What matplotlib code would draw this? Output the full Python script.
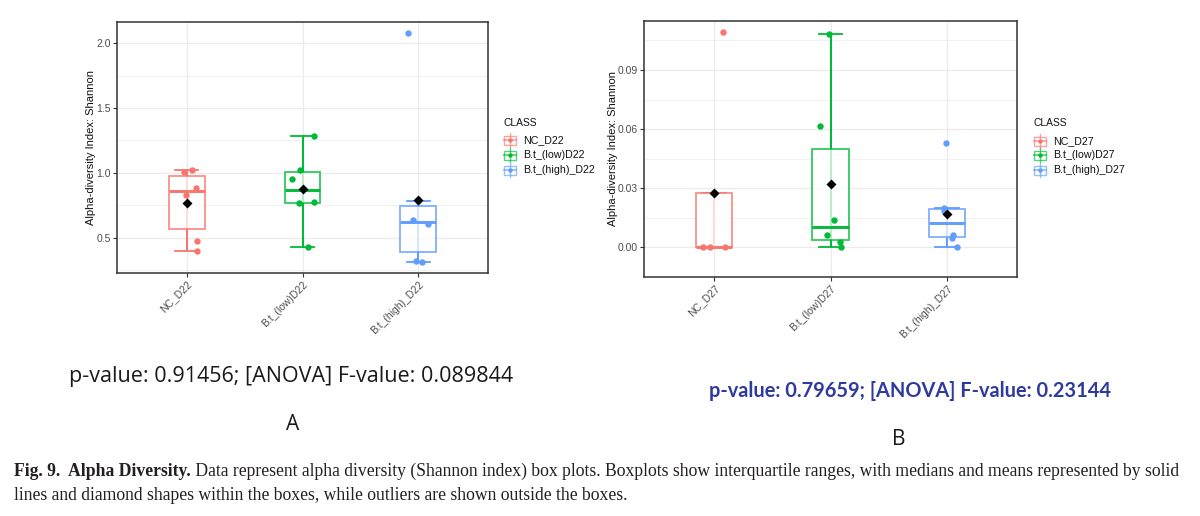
import numpy as np
import matplotlib
matplotlib.use("Agg")
import matplotlib.pyplot as plt
from matplotlib import cbook
from matplotlib.colors import to_rgba
from matplotlib.lines import Line2D
from matplotlib.patches import Rectangle
import matplotlib.transforms as mtransforms

# ---------------- data ----------------
classes_a = ["NC_D22", "B.t_(low)D22", "B.t_(high)_D22"]
classes_b = ["NC_D27", "B.t_(low)D27", "B.t_(high)_D27"]

nc_d22 = [1.022, 1.006, 0.886, 0.830, 0.476, 0.397]
low_d22 = [1.283, 1.022, 0.955, 0.767, 0.775, 0.430]
high_d22 = [2.077, 0.783, 0.635, 0.605, 0.320, 0.314]

nc_d27 = [0.1094, 0.0274, 0.0, 0.0, 0.0]
low_d27 = [0.1083, 0.0618, 0.0141, 0.0064, 0.0030, 0.0]
high_d27 = [0.0529, 0.0200, 0.0183, 0.0063, 0.0050, 0.0]

# horizontal jitter of the points (category units)
jit_nc_d22 = [0.046, -0.023, 0.080, -0.009, 0.086, 0.086]
jit_low_d22 = [0.095, -0.023, -0.092, -0.032, 0.100, 0.046]
jit_high_d22 = [-0.086, 0.0, -0.043, 0.080, -0.023, 0.029]
jit_nc_d27 = [0.077, 0.0, -0.094, -0.031, 0.094]
jit_low_d27 = [-0.011, -0.086, 0.034, -0.029, 0.080, 0.086]
jit_high_d27 = [-0.009, -0.029, -0.023, 0.049, 0.043, 0.086]

yticks_a = [0.5, 1.0, 1.5, 2.0]
yticklabels_a = ["0.5", "1.0", "1.5", "2.0"]
yticks_b = [0.00, 0.03, 0.06, 0.09]
yticklabels_b = ["0.00", "0.03", "0.06", "0.09"]

stat_a = "p-value: 0.91456; [ANOVA] F-value: 0.089844"
stat_b = "p-value: 0.79659; [ANOVA] F-value: 0.23144"
ylabel = "Alpha-diversity Index: Shannon"
legend_title = "CLASS"
cap_bold = "Fig. 9.  Alpha Diversity."
cap_line1 = (" Data represent alpha diversity (Shannon index) box plots. Boxplots show "
             "interquartile ranges, with medians and means represented by solid")
cap_line2 = "lines and diamond shapes within the boxes, while outliers are shown outside the boxes."

colors = ["#F8766D", "#00BA38", "#619CFF"]

# ---------------- figure ----------------
W, H = 1200, 516
fig = plt.figure(figsize=(W / 100, H / 100), dpi=100)
fig.patch.set_facecolor("white")
PX = mtransforms.Affine2D().scale(1 / W, -1 / H).translate(0, 1) + fig.transFigure


def fx(x):
    return x / W


def fy(y):
    return 1 - y / H


def make_axes(left, top, right, bottom):
    return fig.add_axes([fx(left), fy(bottom), (right - left) / W, (bottom - top) / H])


TICK_COL = "#4D4D4D"
FRAME_COL = "#333333"
GRID_COL = "#EBEBEB"


def draw_panel(ax, groups, jitters, labels, yticks, yticklabels):
    pos = np.arange(1, len(groups) + 1)
    stats = cbook.boxplot_stats(groups, whis=1.5)
    for p, st, c in zip(pos, stats, colors):
        ax.vlines(p, st["whislo"], st["whishi"], color=c, lw=1.3, zorder=2)
    bp = ax.bxp(stats, positions=pos, widths=0.31, showfliers=False,
                patch_artist=True, capwidths=0.2, manage_ticks=False)
    for i, c in enumerate(colors):
        bp["boxes"][i].set(facecolor=(1, 1, 1, 0.72), edgecolor=to_rgba(c, 0.8),
                           lw=1.3, zorder=3)
        for w in bp["whiskers"][2 * i:2 * i + 2]:
            w.set(color=c, lw=1.3, zorder=2)
        for cp in bp["caps"][2 * i:2 * i + 2]:
            cp.set(color=c, lw=1.3, zorder=2)
        bp["medians"][i].set(color=c, lw=2.1, zorder=4, solid_capstyle="butt")
    for p, vals, jit, c in zip(pos, groups, jitters, colors):
        ax.plot(p + np.asarray(jit), vals, "o", color=c, ms=4.6, mec="none", zorder=5)
        ax.plot(p, np.mean(vals), "D", color="black", ms=5.6, mec="none", zorder=6)

    allv = np.concatenate([np.asarray(g, float) for g in groups])
    lo, hi = allv.min(), allv.max()
    pad = 0.05 * (hi - lo)
    ax.set_ylim(lo - pad, hi + pad)
    ax.set_xlim(0.4, len(groups) + 0.6)

    ax.set_yticks(yticks)
    ax.set_yticklabels(yticklabels)
    step = yticks[1] - yticks[0]
    minors = np.arange(yticks[0] - step / 2, hi + pad, step)
    ax.set_yticks(minors, minor=True)
    ax.set_xticks(pos)
    ax.set_xticklabels(labels, rotation=45, ha="right", va="top", rotation_mode="anchor")
    off = mtransforms.ScaledTranslation(4 / 100, 0, fig.dpi_scale_trans)
    for lab in ax.get_xticklabels():
        lab.set_transform(lab.get_transform() + off)

    ax.tick_params(axis="both", which="major", length=2.8, width=0.8, color=FRAME_COL,
                   labelsize=7.5, labelcolor=TICK_COL, pad=1.6)
    ax.tick_params(axis="y", which="minor", length=0)
    for lab in ax.get_xticklabels() + ax.get_yticklabels():
        lab.set_family("Liberation Sans")

    ax.grid(True, which="major", color=GRID_COL, lw=0.9, zorder=0)
    ax.grid(True, which="minor", axis="y", color=GRID_COL, lw=0.5, zorder=0)
    ax.set_axisbelow(True)
    for s in ax.spines.values():
        s.set_color(FRAME_COL)
        s.set_linewidth(1.1)
    ax.set_ylabel(ylabel, fontsize=8, family="Liberation Sans", color="#111111")


def draw_legend(x_title, y_title, x_key, x_text, ys, labels):
    fig.text(fx(x_title), fy(y_title), legend_title, fontsize=7.4, family="Liberation Sans",
             va="center", ha="left", color="#111111")
    for y, lab, c in zip(ys, labels, colors):
        lc = to_rgba(c, 0.65)
        fig.add_artist(Line2D([x_key, x_key], [y - 7, y + 7], color=lc, lw=1.0, transform=PX))
        fig.add_artist(Rectangle((x_key - 6, y - 4.5), 12, 9, facecolor="white", edgecolor=lc,
                                 lw=1.0, transform=PX))
        fig.add_artist(Line2D([x_key - 6, x_key + 6], [y, y], color=lc, lw=1.3, transform=PX))
        fig.add_artist(Line2D([x_key], [y], marker="o", ms=3.2, color=c, mec="none",
                              transform=PX))
        fig.text(fx(x_text), fy(y), lab, fontsize=7.7, family="Liberation Sans",
                 va="center", ha="left", color="#111111")


# Panel A
ax_a = make_axes(117, 22, 488, 273)
draw_panel(ax_a, [nc_d22, low_d22, high_d22], [jit_nc_d22, jit_low_d22, jit_high_d22],
           classes_a, yticks_a, yticklabels_a)
ax_a.yaxis.set_label_coords((96 - 117) / 371, 0.5)
draw_legend(503, 123, 510, 523, [140, 155, 170], classes_a)

# Panel B
ax_b = make_axes(644, 21, 1017, 277)
draw_panel(ax_b, [nc_d27, low_d27, high_d27], [jit_nc_d27, jit_low_d27, jit_high_d27],
           classes_b, yticks_b, yticklabels_b)
ax_b.yaxis.set_label_coords((618 - 644) / 373, 0.5)
draw_legend(1033, 123, 1040, 1053, [141, 155, 170], classes_b)

renderer = fig.canvas.get_renderer()


def fitted_text(x, y, s, target_w, fs0, **kw):
    t = fig.text(fx(x), fy(y), s, fontsize=fs0, va="baseline", ha="left", **kw)
    w = t.get_window_extent(renderer).width
    t.set_fontsize(fs0 * target_w / w)
    return t


fitted_text(69, 382, stat_a, 442, 13, family="Open Sans", color="#1A1A1A")
fitted_text(709, 397, stat_b, 401, 13, family="Lato", weight="bold", color="#2E3A9E")
fig.text(fx(293), fy(430), "A", fontsize=15, family="Open Sans", ha="center", va="baseline",
         color="#1A1A1A")
fig.text(fx(899), fy(445), "B", fontsize=15, family="Open Sans", ha="center", va="baseline",
         color="#1A1A1A")

# Caption
CAP_COL = "#231F20"
CAP_FONT = "Liberation Serif"


def caption(fs):
    t1 = fig.text(fx(14), fy(476), cap_bold, fontsize=fs, weight="bold", family=CAP_FONT,
                  va="baseline", ha="left", color=CAP_COL)
    b1 = t1.get_window_extent(renderer)
    t2 = fig.text(b1.x1 / W, fy(476), cap_line1, fontsize=fs, family=CAP_FONT,
                  va="baseline", ha="left", color=CAP_COL)
    b2 = t2.get_window_extent(renderer)
    return t1, t2, b2.x1 - b1.x0


t1, t2, wcap = caption(10)
fs_cap = 10 * 1169 / wcap
t1.remove()
t2.remove()
caption(fs_cap)
fig.text(fx(14), fy(500), cap_line2, fontsize=fs_cap, family=CAP_FONT, va="baseline",
         ha="left", color=CAP_COL)

fig.savefig("out.png", dpi=100, facecolor="white")
